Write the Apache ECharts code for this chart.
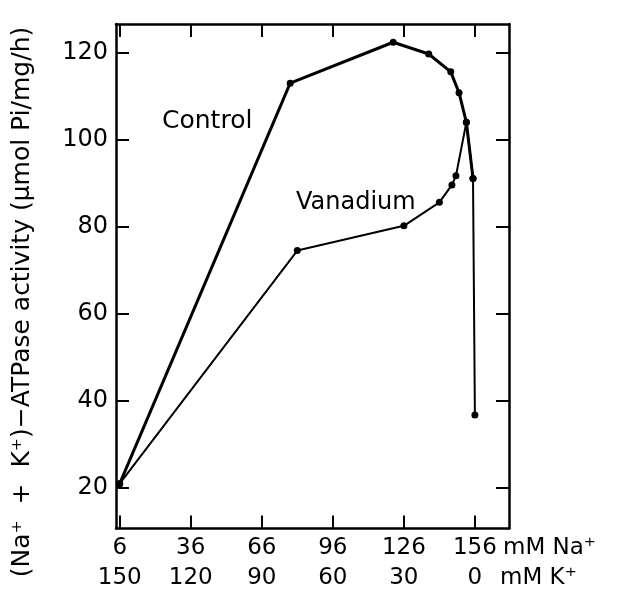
<!DOCTYPE html>
<html>
<head>
	<meta charset="utf-8">
	<title>(Na+ + K+)-ATPase activity</title>
	<script src="https://cdn.jsdelivr.net/npm/echarts@6/dist/echarts.min.js"></script>
	<style type="text/css">
		html, body { margin: 0; padding: 0; background: #fff; }
		#chart { width: 618px; height: 597px; }
	</style>
</head>
<body>
<div id="chart"></div>
<script type="text/javascript">

	// ===========================================  数据
	var naTicks = [6, 36, 66, 96, 126, 156];    // mM Na+
	var kTicks = [150, 120, 90, 60, 30, 0];     // mM K+
	var yTicks = [20, 40, 60, 80, 100, 120];

	var controlNa = [6, 78, 121.5, 136.5, 145.8, 149.3, 152.4, 155.2];
	var controlAct = [21, 113.1, 122.5, 119.8, 115.7, 110.9, 104.1, 91.2];

	var vanadiumNa = [6, 81, 126, 141, 146.3, 148, 152.4, 155.2, 156];
	var vanadiumAct = [21, 74.6, 80.3, 85.7, 89.7, 91.8, 104.1, 91.2, 36.8];

	function pairs(xs, ys) {
		return xs.map(function(x, i) { return [x, ys[i]]; });
	}

	var font = 'DejaVu Sans';
	var ink = '#000';

	var myChart = echarts.init(document.getElementById('chart'), null, { renderer: 'canvas' });

	var frameLine = { show: true, lineStyle: { color: ink, width: 2.5 } };
	var innerTick = function(vals) {
		return { show: true, inside: true, length: 13, customValues: vals, lineStyle: { color: ink, width: 2 } };
	};

	var option = {
		animation: false,
		backgroundColor: '#fff',
		grid: { left: 116, right: 109, top: 24, bottom: 68.5, containLabel: false },
		xAxis: [{
			type: 'value',
			position: 'bottom',
			min: 4.44,
			max: 170.4,
			axisLine: frameLine,
			axisTick: innerTick(naTicks),
			splitLine: { show: false },
			axisLabel: {
				customValues: naTicks,
				margin: 5,
				color: ink,
				fontFamily: font,
				fontSize: 23,
				lineHeight: 30,
				formatter: function(v) {
					return v + '\n' + kTicks[naTicks.indexOf(v)];
				}
			}
		}, {
			type: 'value',
			position: 'top',
			min: 4.44,
			max: 170.4,
			axisLine: frameLine,
			axisTick: innerTick(naTicks),
			axisLabel: { show: false },
			splitLine: { show: false }
		}],
		yAxis: [{
			type: 'value',
			position: 'left',
			min: 10.7,
			max: 126.7,
			axisLine: frameLine,
			axisTick: innerTick(yTicks),
			splitLine: { show: false },
			axisLabel: {
				customValues: yTicks,
				margin: 8,
				color: ink,
				fontFamily: font,
				fontSize: 24
			}
		}, {
			type: 'value',
			position: 'right',
			min: 10.7,
			max: 126.7,
			axisLine: frameLine,
			axisTick: innerTick(yTicks),
			axisLabel: { show: false },
			splitLine: { show: false }
		}],
		graphic: [
			{ type: 'text', x: 22, y: 302, rotation: Math.PI / 2,
				style: { text: '(Na\u207A  +  K\u207A)\u2212ATPase activity (\u03BCmol Pi/mg/h)', font: '25px "' + font + '"', fill: ink, align: 'center', verticalAlign: 'middle' } },
			{ type: 'text', x: 162, y: 121,
				style: { text: 'Control', font: '25px "' + font + '"', fill: ink, align: 'left', verticalAlign: 'middle' } },
			{ type: 'text', x: 296, y: 203,
				style: { text: 'Vanadium', font: '24px "' + font + '"', fill: ink, align: 'left', verticalAlign: 'middle' } },
			{ type: 'text', x: 503, y: 548,
				style: { text: 'mM Na\u207A', font: '23px "' + font + '"', fill: ink, align: 'left', verticalAlign: 'middle' } },
			{ type: 'text', x: 500, y: 578,
				style: { text: 'mM K\u207A', font: '23px "' + font + '"', fill: ink, align: 'left', verticalAlign: 'middle' } }
		],
		series: [{
			name: 'Control',
			type: 'line',
			data: pairs(controlNa, controlAct),
			symbol: 'circle',
			symbolSize: 7,
			itemStyle: { color: ink },
			lineStyle: { color: ink, width: 3 },
			z: 3
		}, {
			name: 'Vanadium',
			type: 'line',
			data: pairs(vanadiumNa, vanadiumAct),
			symbol: 'circle',
			symbolSize: 7,
			itemStyle: { color: ink },
			lineStyle: { color: ink, width: 2 },
			z: 2
		}]
	};
	myChart.setOption(option);

</script>
</body>
</html>
